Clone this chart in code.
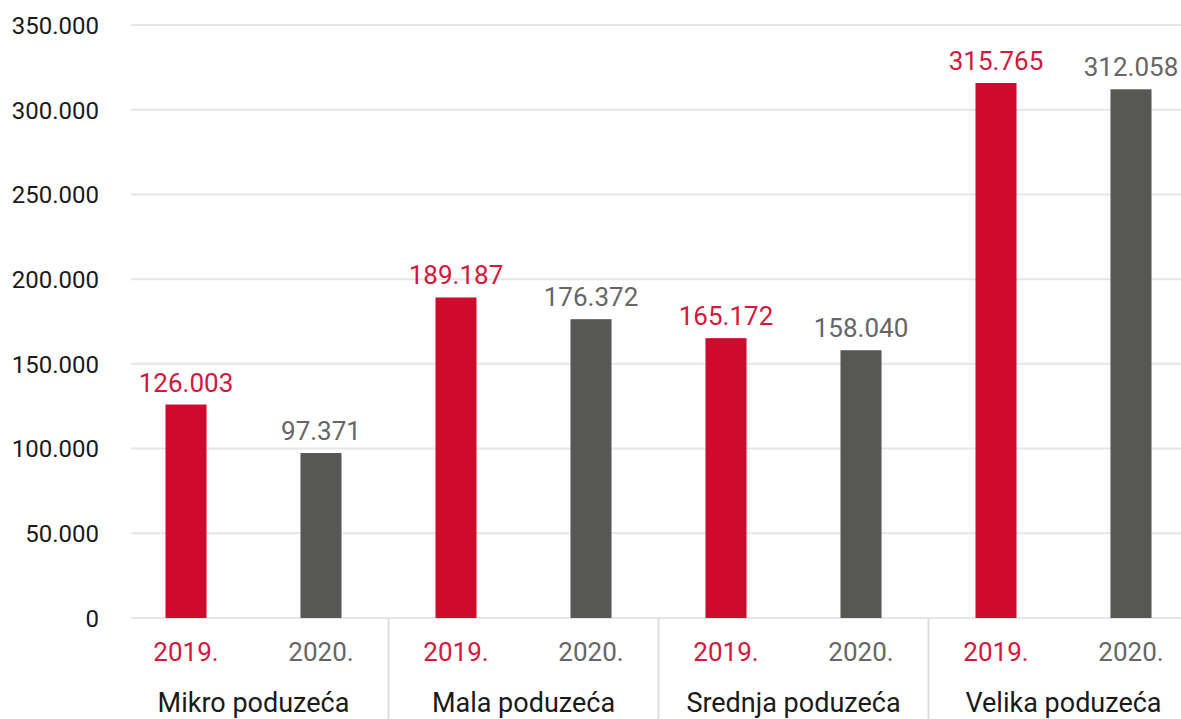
<!DOCTYPE html>
<html>
<head>
<meta charset="utf-8">
<script src="https://cdn.jsdelivr.net/npm/d3@7"></script>
<style>
  body { margin: 0; background: #fff; }
  svg { display: block; }
</style>
</head>
<body>
<div id="chart"></div>
<script>
'use strict'

var categories = ['Mikro poduzeća', 'Mala poduzeća', 'Srednja poduzeća', 'Velika poduzeća']
var years = ['2019.', '2020.']
var values2019 = [126003, 189187, 165172, 315765]
var values2020 = [97371, 176372, 158040, 312058]
var yTicks = [0, 50000, 100000, 150000, 200000, 250000, 300000, 350000]

var colors = { '2019.': '#d00a2c', '2020.': '#575756' }
var textColors = { '2019.': '#d4173d', '2020.': '#666666' }

var data = categories.map(function(c, i) {
  return {
    category: c,
    bars: [
      { year: years[0], value: values2019[i] },
      { year: years[1], value: values2020[i] }
    ]
  }
})

var width = 1181
var height = 719
var zeroY = 618
var topY = 25
var font = 'Roboto, "Noto Sans", sans-serif'

var locale = d3.formatLocale({ decimal: ',', thousands: '.', grouping: [3], currency: ['', ''] })
var fmt = locale.format(',d')

var svg = d3
  .select('#chart')
  .append('svg')
  .attr('width', width)
  .attr('height', height)

var x0 = d3
  .scaleBand()
  .domain(categories)
  .range([118.5, 1198.5])

var x1 = d3
  .scaleBand()
  .domain(years)
  .range([0, x0.bandwidth()])
  .paddingInner(0.696)
  .paddingOuter(0.348)

var y = d3
  .scaleLinear()
  .domain([0, 350000])
  .range([zeroY, topY])

// grid
svg
  .append('g')
  .selectAll('line')
  .data(yTicks)
  .enter()
  .append('line')
  .attr('x1', 131)
  .attr('x2', width)
  .attr('y1', function(d) { return y(d) })
  .attr('y2', function(d) { return y(d) })
  .attr('stroke', '#e6e6e6')
  .attr('stroke-width', 2)

// y axis labels
var yAxis = d3
  .axisLeft(y)
  .tickValues(yTicks)
  .tickFormat(fmt)
  .tickSize(0)
  .tickPadding(0)

var yg = svg
  .append('g')
  .attr('transform', 'translate(99,0)')
  .call(yAxis)
yg.select('.domain').remove()
yg.selectAll('text')
  .attr('font-family', font)
  .attr('font-size', '24px')
  .attr('fill', '#1a1a1a')
  .attr('dy', '0.35em')

// separators between groups
svg
  .append('g')
  .selectAll('line')
  .data(categories.slice(1))
  .enter()
  .append('line')
  .attr('x1', function(d) { return x0(d) })
  .attr('x2', function(d) { return x0(d) })
  .attr('y1', zeroY)
  .attr('y2', height)
  .attr('stroke', '#dddddd')
  .attr('stroke-width', 2)

var group = svg
  .selectAll('.group')
  .data(data)
  .enter()
  .append('g')
  .attr('class', 'group')
  .attr('transform', function(d) { return 'translate(' + x0(d.category) + ',0)' })

var bar = group
  .selectAll('.bar')
  .data(function(d) { return d.bars })
  .enter()
  .append('g')
  .attr('class', 'bar')

bar
  .append('rect')
  .attr('x', function(d) { return x1(d.year) })
  .attr('y', function(d) { return y(d.value) })
  .attr('width', x1.bandwidth())
  .attr('height', function(d) { return zeroY - y(d.value) })
  .attr('fill', function(d) { return colors[d.year] })

bar
  .append('text')
  .attr('x', function(d) { return x1(d.year) + x1.bandwidth() / 2 })
  .attr('y', function(d) { return y(d.value) - 13 })
  .attr('text-anchor', 'middle')
  .attr('font-family', font)
  .attr('font-size', '26px')
  .attr('fill', function(d) { return textColors[d.year] })
  .text(function(d) { return fmt(d.value) })

bar
  .append('text')
  .attr('x', function(d) { return x1(d.year) + x1.bandwidth() / 2 })
  .attr('y', 661)
  .attr('text-anchor', 'middle')
  .attr('font-family', font)
  .attr('font-size', '26px')
  .attr('fill', function(d) { return textColors[d.year] })
  .text(function(d) { return d.year })

group
  .append('text')
  .attr('x', x0.bandwidth() / 2)
  .attr('y', 712)
  .attr('text-anchor', 'middle')
  .attr('font-family', font)
  .attr('font-size', '27px')
  .attr('fill', '#1a1a1a')
  .text(function(d) { return d.category })
</script>
</body>
</html>
